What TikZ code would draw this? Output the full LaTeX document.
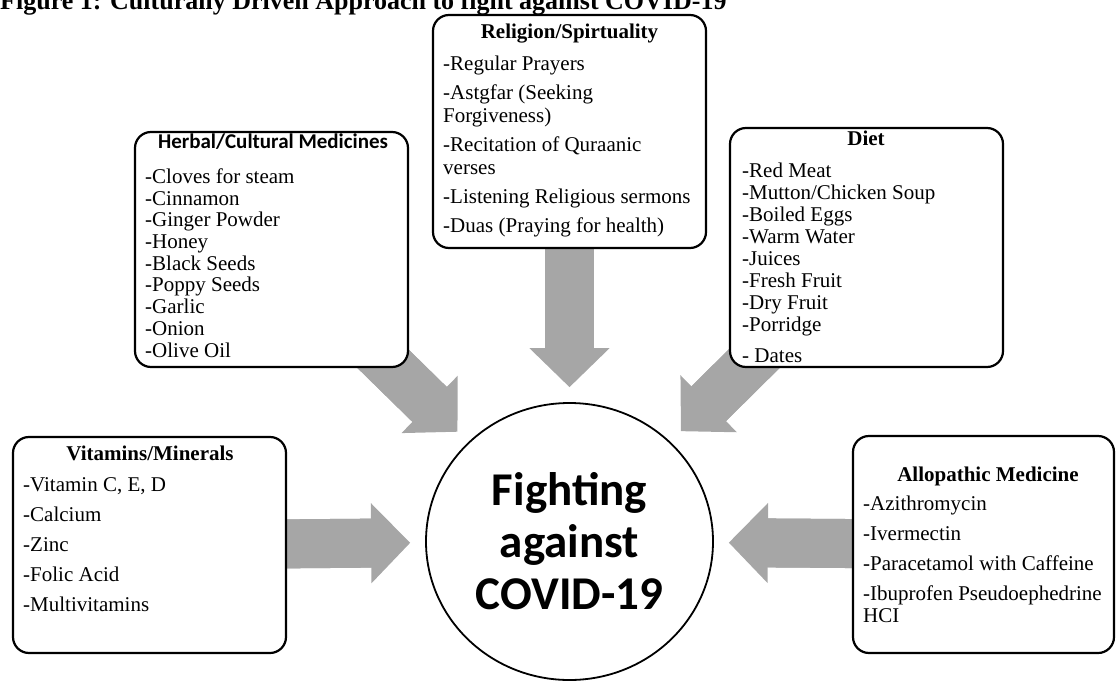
\documentclass[tikz,border=0pt]{standalone}
\usepackage{fontspec}
\setmainfont{Liberation Serif}
\newfontfamily\calibri{Carlito}
\usetikzlibrary{arrows.meta,shapes.geometric,backgrounds}
\definecolor{arrowgray}{RGB}{166,166,166}

\begin{document}
\begin{tikzpicture}[x=1pt, y=-1pt,
    catbox/.style={draw, line width=2.2pt, rounded corners=16pt, fill=white, inner sep=0pt},
    heading/.style={anchor=base, inner sep=0pt, font=\fontsize{21}{23}\selectfont\bfseries},
    itemlist/.style={anchor=north west, align=left, inner sep=0pt},
    blockarrow/.style={arrowgray, line width=49pt, shorten >=15pt,
        preaction={draw=arrowgray, line width=49pt, shorten >=40pt, arrows=-},
        -{Triangle[width=80pt, length=39pt, line width=1.5pt]}}]
    \useasboundingbox (0,0) rectangle (1116,682);
    \clip (0,0) rectangle (1116,682);
    \node[anchor=base west, inner sep=0pt, font=\fontsize{26}{30}\selectfont\bfseries] (title) at (0,10)
        {Figure 1: Culturally Driven Approach to fight against COVID-19};
    % boxes
    \node[catbox, minimum width=273pt, minimum height=235pt] (herbal) at (271.5,249.5) {};
    \node[catbox, minimum width=273pt, minimum height=233pt] (religion) at (569.5,131.5) {};
    \node[catbox, minimum width=273pt, minimum height=239pt] (diet) at (866.5,247.5) {};
    \node[catbox, minimum width=273pt, minimum height=216pt] (vitamins) at (149.5,545) {};
    \node[catbox, minimum width=261pt, minimum height=217pt] (allopathic) at (983.5,544.5) {};
    % headings
    \node[heading, font=\fontsize{21}{23}\selectfont\calibri\bfseries] (herbalhead) at (273,148) {Herbal/Cultural Medicines};
    \node[heading] (religionhead) at (569.5,39) {Religion/Spirtuality};
    \node[heading] (diethead) at (866,146) {Diet};
    \node[heading] (vitaminshead) at (150,460) {Vitamins/Minerals};
    \node[heading] (allopathichead) at (988,481) {Allopathic Medicine};
    % lists
    \node[itemlist, font=\fontsize{21}{21.7}\selectfont] (herballist) at (145,168.5)
        {-Cloves for steam\\-Cinnamon\\-Ginger Powder\\-Honey\\-Black Seeds\\-Poppy Seeds\\-Garlic\\-Onion\\-Olive Oil};
    \node[itemlist, font=\fontsize{21}{23}\selectfont] (religionlist) at (443,55.5)
        {-Regular Prayers\\[6pt]-Astgfar (Seeking\\Forgiveness)\\[6pt]-Recitation of Quraanic\\verses\\[6pt]%
         -Listening Religious sermons\\[6pt]-Duas (Praying for health)};
    \node[itemlist, font=\fontsize{21}{22}\selectfont] (dietlist) at (742,162.5)
        {-Red Meat\\-Mutton/Chicken Soup\\-Boiled Eggs\\-Warm Water\\-Juices\\-Fresh Fruit\\-Dry Fruit\\-Porridge\\[9pt]- Dates};
    \node[itemlist, font=\fontsize{21}{30}\selectfont] (vitaminslist) at (23,477.5)
        {-Vitamin C, E, D\\-Calcium\\-Zinc\\-Folic Acid\\-Multivitamins};
    \node[itemlist, font=\fontsize{21}{22}\selectfont] (allopathiclist) at (863,495.5)
        {-Azithromycin\\[8pt]-Ivermectin\\[8pt]-Paracetamol with Caffeine\\[8pt]-Ibuprofen Pseudoephedrine\\HCI};
    % centre
    \node[ellipse, draw, line width=1.8pt, minimum width=287pt, minimum height=277pt, inner sep=0pt,
        align=center, font=\fontsize{47}{52}\selectfont\calibri\bfseries] (hub) at (569.5,541.5)
        {Fighting\\against\\COVID-19};
    \begin{scope}[on background layer]
        \draw[blockarrow] (herbal.center) -- (hub);
        \draw[blockarrow] (religion.center) -- (hub);
        \draw[blockarrow] (diet.center) -- (hub);
        \draw[blockarrow] (vitamins.center) -- (hub);
        \draw[blockarrow] (allopathic.center) -- (hub);
    \end{scope}
\end{tikzpicture}
\end{document}
